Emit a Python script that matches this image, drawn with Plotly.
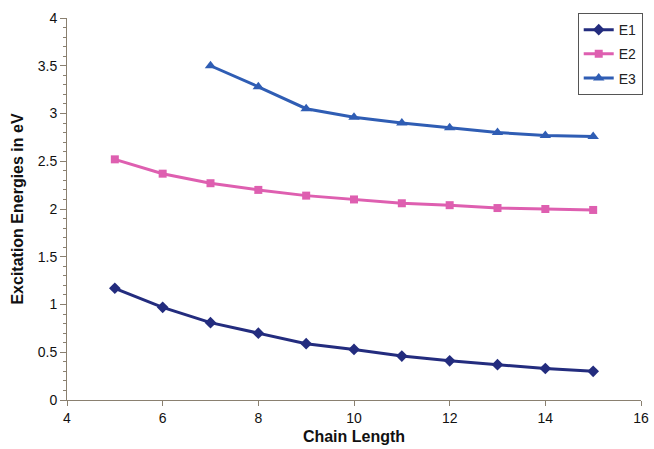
import plotly.graph_objects as go

chain_length = [5, 6, 7, 8, 9, 10, 11, 12, 13, 14, 15]
e1 = [1.17, 0.97, 0.81, 0.70, 0.59, 0.53, 0.46, 0.41, 0.37, 0.33, 0.30]
e2 = [2.52, 2.37, 2.27, 2.20, 2.14, 2.10, 2.06, 2.04, 2.01, 2.00, 1.99]
chain_length_e3 = [7, 8, 9, 10, 11, 12, 13, 14, 15]
e3 = [3.50, 3.28, 3.05, 2.96, 2.90, 2.85, 2.80, 2.77, 2.76]

fig = go.Figure()
fig.add_trace(go.Scatter(x=chain_length, y=e1, name="E1", mode="lines+markers", legendgroup="a",
                         line=dict(color="#232C7E", width=3),
                         marker=dict(symbol="diamond", size=9, color="#232C7E")))
fig.add_trace(go.Scatter(x=chain_length, y=e2, name="E2", mode="lines+markers", legendgroup="b",
                         line=dict(color="#DE5FB0", width=3),
                         marker=dict(symbol="square", size=8, color="#DE5FB0")))
fig.add_trace(go.Scatter(x=chain_length_e3, y=e3, name="E3", mode="lines+markers", legendgroup="c",
                         line=dict(color="#2F5DB4", width=3),
                         marker=dict(symbol="triangle-up", size=10, color="#2F5DB4")))

axis_color = "#8A8070"
fig.update_layout(
    width=654, height=449,
    margin=dict(l=67, r=11, t=18, b=49),
    paper_bgcolor="white", plot_bgcolor="white",
    font=dict(family="Liberation Sans, Arial, sans-serif", size=14, color="#222222"),
    showlegend=True,
    legend=dict(x=1.003, xanchor="right", y=1.013, yanchor="top",
                bordercolor="#555555", borderwidth=1, bgcolor="white",
                font=dict(size=14), tracegroupgap=3),
    xaxis=dict(range=[4, 16], dtick=2, tick0=4, showgrid=False, zeroline=False,
               showline=True, linecolor=axis_color, linewidth=1, automargin=False,
               ticks="outside", ticklen=5, tickcolor=axis_color,
               tickfont=dict(size=14, color="#111111"),
               title=dict(text="<b>Chain Length</b>", standoff=6,
                          font=dict(size=16, color="#111111"))),
    yaxis=dict(range=[0, 4], dtick=0.5, tick0=0, showgrid=False, zeroline=False,
               showline=True, linecolor=axis_color, linewidth=1, automargin=False,
               ticks="outside", ticklen=6, tickcolor=axis_color,
               tickfont=dict(size=14, color="#111111"),
               minor=dict(ticks="outside", dtick=0.1, ticklen=3, tickcolor=axis_color, showgrid=False),
               title=dict(text="<b>Excitation Energies in eV</b>", standoff=10,
                          font=dict(size=16, color="#111111"))),
)

fig.write_html("out.html", config={"displayModeBar": False})
with open("out.html", encoding="utf-8") as f:
    html = f.read()
html = html.replace("<body>", '<body style="margin:0;padding:0;overflow:hidden">', 1)
with open("out.html", "w", encoding="utf-8") as f:
    f.write(html)
